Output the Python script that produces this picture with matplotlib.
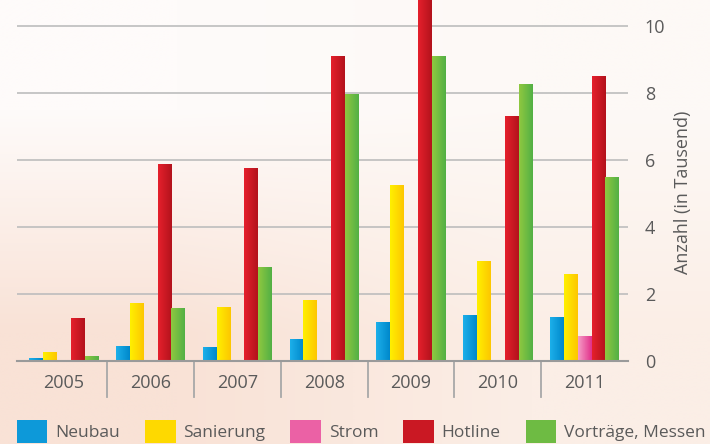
import matplotlib
matplotlib.use("Agg")
import matplotlib.pyplot as plt
import numpy as np
from matplotlib.colors import LinearSegmentedColormap
from matplotlib.patches import Patch

matplotlib.rcParams['font.family'] = ['Open Sans', 'DejaVu Sans']

years     = ['2005', '2006', '2007', '2008', '2009', '2010', '2011']
neubau    = [0.08, 0.45, 0.42, 0.66, 1.16, 1.37, 1.31]
sanierung = [0.28, 1.73, 1.61, 1.82, 5.25, 2.99, 2.60]
strom     = [0.0, 0.0, 0.0, 0.0, 0.0, 0.04, 0.75]
hotline   = [1.29, 5.88, 5.76, 9.10, 11.20, 7.31, 8.50]
vortraege = [0.15, 1.58, 2.81, 7.97, 9.10, 8.27, 5.49]

series_names = ['Neubau', 'Sanierung', 'Strom', 'Hotline', 'Vorträge, Messen']
series_vals  = [neubau, sanierung, strom, hotline, vortraege]
# (light left edge, dark right edge)
series_cols  = [('#1cb0ea', '#0087cb'),
                ('#fff000', '#fdc600'),
                ('#f59cc6', '#e2308a'),
                ('#e5202c', '#b3121c'),
                ('#8fc840', '#52b045')]

TEXT = '#5a5a5a'
FS = 13
FS_LEG = 12.5

fig = plt.figure(figsize=(7.1, 4.44), dpi=100)

# =========================
# BACKGROUND (soft peach wash)
# =========================
bg = fig.add_axes([0, 0, 1, 1], zorder=-5)
corners = np.array([[[254, 251, 250], [253, 249, 246]],
                    [[249, 226, 214], [251, 238, 230]]]) / 255.0
bg.imshow(corners, extent=[0, 1, 0, 1], aspect='auto', interpolation='bilinear')
bg.set_axis_off()

# =========================
# MAIN AXES
# =========================
ax = fig.add_axes([17 / 710, 1 - 361 / 444, 611 / 710, 361 / 444])
ax.set_facecolor('none')

x = np.arange(len(years))
width = 0.16
n = len(series_names)
cmaps = []

for i, (name, vals, (c_light, c_dark)) in enumerate(zip(series_names, series_vals, series_cols)):
    offset = (i - (n - 1) / 2) * width
    bars = ax.bar(x + offset, vals, width=width, color=c_dark, zorder=3, linewidth=0)
    cmap = LinearSegmentedColormap.from_list(name, [c_light, c_dark])
    cmaps.append(cmap)
    grad = np.linspace(0, 1, 64).reshape(1, -1)
    for bar in bars:
        if bar.get_height() <= 0:
            continue
        x0, y0 = bar.get_xy()
        im = ax.imshow(grad, cmap=cmap, aspect='auto', interpolation='bilinear',
                       extent=[x0, x0 + bar.get_width(), y0, y0 + bar.get_height()],
                       zorder=4)
        im.set_clip_path(bar)

ax.set_xlim(-0.54, 6.5)
ax.set_ylim(0, 10.78)

# grid + baseline
ax.set_yticks([0, 2, 4, 6, 8, 10])
ax.grid(axis='y', color='#bdbdbd', linewidth=1.2, zorder=1)
ax.set_axisbelow(True)
for s in ['top', 'right', 'left']:
    ax.spines[s].set_visible(False)
ax.spines['bottom'].set_color('#9a9a9a')
ax.spines['bottom'].set_linewidth(1.5)
ax.spines['bottom'].set_zorder(5)

# group separators below the baseline
for b in x[:-1] + 0.5:
    ax.axvline(b, ymin=-0.1, ymax=0, color='#a8a8a8', linewidth=1.3, clip_on=False)

ax.set_xticks(x)
ax.set_xticklabels(years)
ax.tick_params(axis='x', length=0, pad=9, labelsize=FS, labelcolor=TEXT)

ax.yaxis.tick_right()
ax.tick_params(axis='y', length=0, pad=12, labelsize=FS, labelcolor=TEXT)
ax.set_ylabel('Anzahl (in Tausend)', fontsize=FS, color=TEXT)
ax.yaxis.set_label_position('right')
ax.yaxis.set_label_coords(1.075, 0.467)

# =========================
# LEGEND
# =========================
handles = [Patch(facecolor=cm(0.55), edgecolor='none') for cm in cmaps]
fig.legend(handles, series_names, loc='upper left', bbox_to_anchor=(17 / 710, 1 - 420 / 444),
           ncol=5, frameon=False, fontsize=FS_LEG, labelcolor=TEXT,
           handlelength=1.75, handleheight=1.65, handletextpad=0.45,
           columnspacing=1.45, borderpad=0, borderaxespad=0)

fig.savefig('out.png', dpi=100)
plt.close(fig)
